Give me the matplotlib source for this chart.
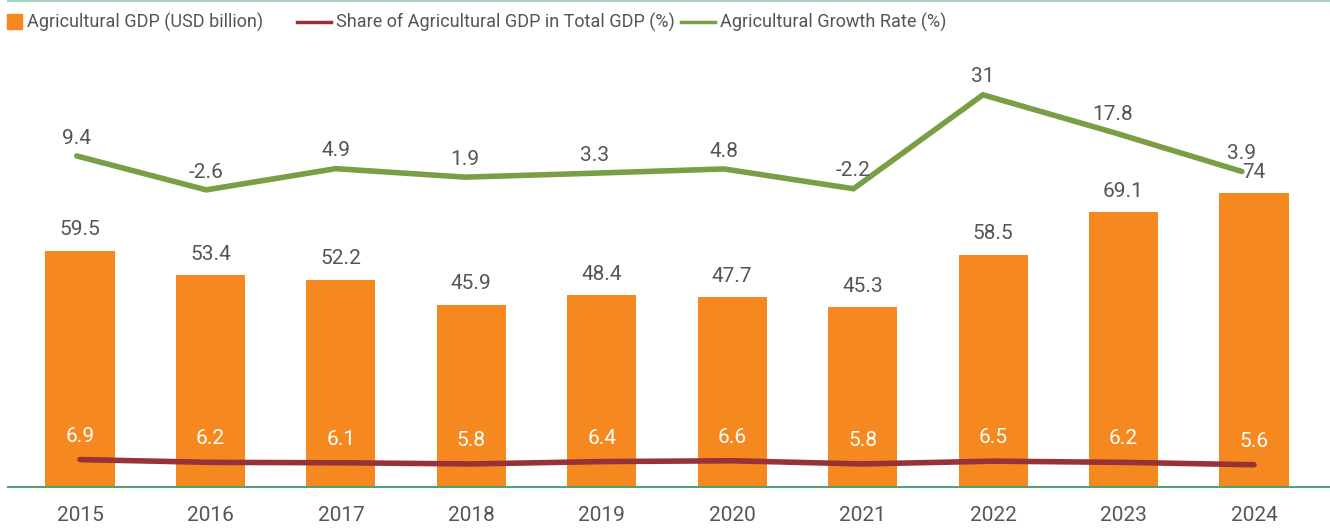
import matplotlib.pyplot as plt
from matplotlib.lines import Line2D
from matplotlib.patches import Rectangle

# Agricultural sector indicators, 2015-2024
years = ['2015', '2016', '2017', '2018', '2019', '2020', '2021', '2022', '2023', '2024']
agri_gdp = [59.5, 53.4, 52.2, 45.9, 48.4, 47.7, 45.3, 58.5, 69.1, 74]
agri_share = [6.9, 6.2, 6.1, 5.8, 6.4, 6.6, 5.8, 6.5, 6.2, 5.6]
growth_rate = [9.4, -2.6, 4.9, 1.9, 3.3, 4.8, -2.2, 31, 17.8, 3.9]

ORANGE = '#F5891F'
GREEN = '#7A9E45'
RED = '#963238'
TEXT = '#555555'

plt.rcParams['font.family'] = ['Roboto', 'DejaVu Sans']

W, H = 1330, 528
fig = plt.figure(figsize=(W / 100, H / 100), dpi=100)
ax = fig.add_axes([8 / W, 1 - 487 / H, 1 - 8 / W, 457 / H])
ax2 = ax.twinx()

x = list(range(len(years)))
# growth line sits slightly left of the bar centres
gx = [i * 0.9925 - 0.025 for i in x]

ax.bar(x, agri_gdp, width=0.53, color=ORANGE, zorder=2)
ax.plot(x, agri_share, color=RED, linewidth=4, solid_capstyle='round', zorder=3)
ax2.plot(gx, growth_rate, color=GREEN, linewidth=4, solid_capstyle='round',
         solid_joinstyle='miter')

ax.set_xlim(-0.552, 9.583)
ax.set_ylim(0, 115)
ax2.set_ylim(-107.6, 53.9)

for xi, v in zip(x, agri_gdp):
    ax.annotate(f'{v:g}', (xi, v), xytext=(0, 8), textcoords='offset points',
                ha='center', va='bottom', fontsize=15, color=TEXT)
for xi, v in zip(x, agri_share):
    ax.annotate(f'{v:g}', (xi, v), xytext=(0, 10), textcoords='offset points',
                ha='center', va='bottom', fontsize=15, color='white')
for xi, v in zip(gx, growth_rate):
    ax2.annotate(f'{v:g}', (xi, v), xytext=(0, 6), textcoords='offset points',
                 ha='center', va='bottom', fontsize=15, color=TEXT)

for a in (ax, ax2):
    for side in ('top', 'left', 'right'):
        a.spines[side].set_visible(False)
    a.set_yticks([])
ax2.spines['bottom'].set_visible(False)
ax.spines['bottom'].set_color('#5A9E78')
ax.spines['bottom'].set_linewidth(1.5)
ax.spines['bottom'].set_zorder(4)

ax.set_xticks(x)
ax.set_xticklabels(years, fontsize=15, color=TEXT)
ax.tick_params(axis='x', length=0, pad=14)

# thin rule along the top edge
fig.add_artist(Line2D([8 / W, 1], [1 - 1 / H, 1 - 1 / H],
                      color='#A8D5C0', linewidth=1.5))

# legend row, laid out by hand
ly = 1 - 22 / H
fig.add_artist(Rectangle((7 / W, 1 - 29 / H), 15 / W, 15 / H, color=ORANGE))
fig.text(27 / W, ly, 'Agricultural GDP (USD billion)', fontsize=13, color=TEXT, va='center')
fig.add_artist(Line2D([297 / W, 331 / W], [ly, ly], color=RED, linewidth=2.5))
fig.text(336 / W, ly, 'Share of Agricultural GDP in Total GDP (%)', fontsize=13,
         color=TEXT, va='center')
fig.add_artist(Line2D([681 / W, 715 / W], [ly, ly], color=GREEN, linewidth=2.5))
fig.text(720 / W, ly, 'Agricultural Growth Rate (%)', fontsize=13, color=TEXT, va='center')

fig.savefig('out.png', dpi=100)
